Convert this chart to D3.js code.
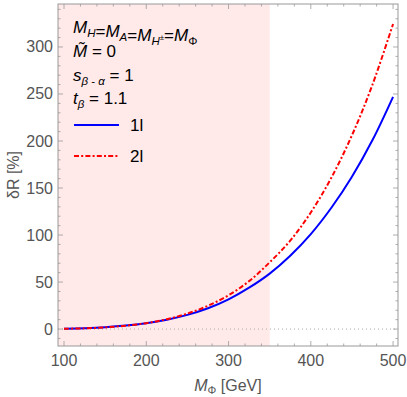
<!DOCTYPE html>
<html><head><meta charset="utf-8">
<script src="https://cdn.jsdelivr.net/npm/d3@7"></script>
<style>body{margin:0;background:#fff}svg{display:block}</style>
</head><body><svg id="c" width="407" height="397"></svg>
<script>
const masses = [100,125,150,175,200,225,250,275,300,325,350,375,400,425,450,475,500];
const oneLoop = [0.4,1.0,2.0,3.7,6.3,10.0,15.1,22.1,31.6,44,59,78,101,129,162,201,247];
const twoLoop = [0.3,0.8,1.8,3.6,6.3,10.5,16.5,24.8,36,51,71,94,124,161,206,260,324.5];
const xTicks = [100,200,300,400,500];
const yTicks = [0,50,100,150,200,250,300];
const shadeMax = 350;

const svg = d3.select("#c");
const L=58,R=398,T=4,B=346;
const x = d3.scaleLinear().domain([92.7,506]).range([L,R]);
const y = d3.scaleLinear().domain([-18,345.7]).range([B,T]);
const font = "Liberation Sans, Arial, sans-serif";
const grey = "#999";
const dashRed = "5,2.2,2,2.2";

svg.append("rect").attr("x",L).attr("y",T).attr("width",x(shadeMax)-L).attr("height",B-T).attr("fill","#ffe9e9");

svg.append("line").attr("x1",L).attr("x2",R).attr("y1",y(0)).attr("y2",y(0))
  .attr("stroke","#aaa").attr("stroke-width",1).attr("stroke-dasharray","1,3");

const line = d3.line().x((d,i)=>x(masses[i])).y(d=>y(d)).curve(d3.curveCatmullRom.alpha(0.5));
svg.append("path").datum(oneLoop).attr("d",line).attr("fill","none").attr("stroke","#0000ff").attr("stroke-width",2);
svg.append("path").datum(twoLoop).attr("d",line).attr("fill","none").attr("stroke","#ff0000").attr("stroke-width",2).attr("stroke-dasharray",dashRed);

const g = svg.append("g");
g.append("rect").attr("x",L).attr("y",T).attr("width",R-L).attr("height",B-T).attr("fill","none").attr("stroke",grey).attr("stroke-width",1);
const xMinor = d3.range(100,501,20).filter(v=>!xTicks.includes(v));
const yMinor = d3.range(-10,341,10).filter(v=>!yTicks.includes(v));
function tk(x1,y1,x2,y2){g.append("line").attr("x1",x1).attr("y1",y1).attr("x2",x2).attr("y2",y2).attr("stroke",grey).attr("stroke-width",0.8);}
xTicks.forEach(v=>{tk(x(v),B,x(v),B-5);tk(x(v),T,x(v),T+5);});
xMinor.forEach(v=>{tk(x(v),B,x(v),B-2.5);tk(x(v),T,x(v),T+2.5);});
yTicks.forEach(v=>{tk(L,y(v),L+5,y(v));tk(R,y(v),R-5,y(v));});
yMinor.forEach(v=>{tk(L,y(v),L+2.5,y(v));tk(R,y(v),R-2.5,y(v));});

const tf = 16;
svg.selectAll(".xl").data(xTicks).enter().append("text").attr("x",d=>x(d)).attr("y",366)
  .attr("text-anchor","middle").attr("font-family",font).attr("font-size",tf).attr("fill","#555").text(d=>d);
svg.selectAll(".yl").data(yTicks).enter().append("text").attr("x",53).attr("y",d=>y(d)+5.5)
  .attr("text-anchor","end").attr("font-family",font).attr("font-size",tf).attr("fill","#555").text(d=>d);

const xl = svg.append("text").attr("x",228).attr("y",391).attr("text-anchor","middle").attr("font-family",font).attr("font-size",tf).attr("fill","#555");
xl.append("tspan").attr("font-style","italic").text("M");
xl.append("tspan").attr("font-size",11).attr("dy",3).text("Φ");
xl.append("tspan").attr("dy",-3).text(" [GeV]");
svg.append("text").attr("transform","translate(19,175) rotate(-90)").attr("text-anchor","middle")
  .attr("font-family",font).attr("font-size",tf).attr("fill","#555").text("δR [%]");

const lf = 17, sf = 11.5;
function sub(t,main,s){t.append("tspan").attr("font-style","italic").text(main);t.append("tspan").attr("font-size",sf).attr("font-style","italic").attr("dy",4).text(s);t.append("tspan").attr("dy",-4).text("");}
const t1 = svg.append("text").attr("x",73).attr("y",33).attr("font-family",font).attr("font-size",lf).attr("fill","#000");
sub(t1,"M","H");t1.append("tspan").text("=");
sub(t1,"M","A");t1.append("tspan").text("=");
t1.append("tspan").attr("font-style","italic").text("M");
t1.append("tspan").attr("font-size",sf).attr("font-style","italic").attr("dy",4).text("H");
t1.append("tspan").attr("font-size",8).attr("dy",-5).text("±");
t1.append("tspan").attr("dy",1).text("=");
t1.append("tspan").attr("font-style","italic").text("M");t1.append("tspan").attr("font-size",sf).attr("dy",4).text("Φ");
const t2 = svg.append("text").attr("x",73).attr("y",57).attr("font-family",font).attr("font-size",lf).attr("fill","#000");
t2.append("tspan").attr("font-style","italic").text("M\u0303");t2.append("tspan").text(" = 0");
const t3 = svg.append("text").attr("x",73).attr("y",81).attr("font-family",font).attr("font-size",lf).attr("fill","#000");
t3.append("tspan").attr("font-style","italic").text("s");
t3.append("tspan").attr("font-size",sf).attr("dy",4).html("<tspan font-style='italic'>β</tspan> - <tspan font-style='italic'>α</tspan>");
t3.append("tspan").attr("dy",-4).text(" = 1");
const t4 = svg.append("text").attr("x",73).attr("y",104).attr("font-family",font).attr("font-size",lf).attr("fill","#000");
t4.append("tspan").attr("font-style","italic").text("t");
t4.append("tspan").attr("font-size",sf).attr("font-style","italic").attr("dy",4).text("β");
t4.append("tspan").attr("dy",-4).text(" = 1.1");

const legend = [{name:"1l",color:"#0000ff",dash:null,y:125},{name:"2l",color:"#ff0000",dash:dashRed,y:156}];
legend.forEach(d=>{
  svg.append("line").attr("x1",74).attr("x2",119).attr("y1",d.y).attr("y2",d.y).attr("stroke",d.color).attr("stroke-width",2).attr("stroke-dasharray",d.dash);
  svg.append("text").attr("x",130).attr("y",d.y+6).attr("font-family",font).attr("font-size",lf).attr("fill","#000").text(d.name);
});
</script></body></html>
